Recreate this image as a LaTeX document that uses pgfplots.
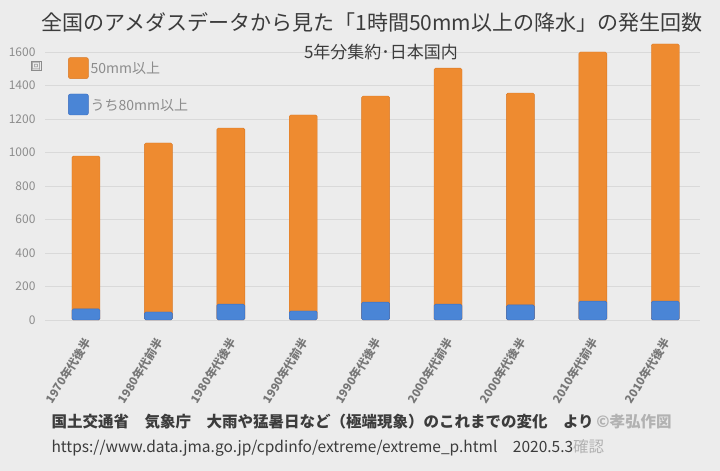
\documentclass[border=0pt]{standalone}
\usepackage{pgfplots}
\pgfplotsset{compat=1.18}
\usepackage{fontspec}
\setmainfont{Noto Sans CJK JP}
\definecolor{bg}{HTML}{ECECEC}
\definecolor{gridc}{HTML}{D9D9D9}
\definecolor{orbar}{HTML}{EE8B30}
\definecolor{ordraw}{HTML}{D87826}
\definecolor{blbar}{HTML}{4A85D6}
\definecolor{bldraw}{HTML}{3A6CBE}
\definecolor{titlec}{HTML}{3C3C3C}
\definecolor{tickc}{HTML}{8C8C8C}

\pgfplotstableread{
x  all   heavy
0  979   66
1  1057  48
2  1146  95
3  1224  54
4  1337  107
5  1504  95
6  1355  90
7  1600  113
8  1648  113
}\counts

\begin{document}
\begin{tikzpicture}[x=1pt,y=1pt]
  \path[use as bounding box, fill=bg] (0,0) rectangle (720,471);
  \begin{axis}[
      at={(45pt,151pt)}, anchor=south west,
      scale only axis,
      width=655pt, height=284.75pt,
      xmin=-0.566, xmax=8.48,
      ymin=0, ymax=1700,
      ytick={0,200,...,1600},
      xtick={0,...,8},
      xticklabels={1970年代後半,1980年代前半,1980年代後半,1990年代前半,1990年代後半,2000年代前半,2000年代後半,2010年代前半,2010年代後半},
      axis line style={draw=none},
      major tick length=0pt,
      ymajorgrids,
      grid style={gridc, line width=0.8pt},
      /pgf/number format/assume math mode=true,
      /pgf/number format/1000 sep={},
      yticklabel style={font=\fontsize{12}{12}\selectfont, text=tickc, xshift=-6pt},
      xticklabel style={font=\bfseries\fontsize{11.5}{11.5}\selectfont, text=tickc!85!black, rotate=58, anchor=north east, xshift=-12pt, yshift=-3pt},
      legend style={at={(0.0305,0.93)}, anchor=north west, draw=none, fill=none,
        font=\fontsize{14}{14}\selectfont, text=tickc, row sep=15pt,
        /tikz/every even column/.append style={column sep=8pt}},
      legend cell align=left,
      legend image code/.code={\draw[#1, rounded corners=2pt] (0pt,-10pt) rectangle (20pt,11pt);},
      clip=false,
    ]
    \addplot[ybar, bar width=28pt, bar shift=0pt, fill=orbar, draw=ordraw, rounded corners=1.5pt] table[x=x, y=all] {\counts};
    \addlegendentry{50mm以上}
    \addplot[ybar, bar width=28pt, bar shift=0pt, fill=blbar, draw=bldraw, rounded corners=1.5pt] table[x=x, y=heavy] {\counts};
    \addlegendentry{うち80mm以上}
  \end{axis}
  \node[text=titlec, font=\fontsize{21}{21}\selectfont] at (372,449) {全国のアメダスデータから見た「1時間50mm以上の降水」の発生回数};
  \node[text=titlec, font=\fontsize{17}{17}\selectfont] at (381,419) {5年分集約･日本国内};
  \node[text=tickc, font=\fontsize{9}{9}\selectfont, draw=tickc, inner sep=0.5pt] at (36,405) {回};
  \node[anchor=west, text=titlec, font=\bfseries\fontsize{15.5}{15.5}\selectfont] at (48,49)
    {国土交通省\hspace{1em}気象庁\hspace{1em}大雨や猛暑日など（極端現象）のこれまでの変化\hspace{1em}より\,\textcolor{gray!60}{©孝弘作図}};
  \node[anchor=west, text=titlec, font=\fontsize{15.5}{15.5}\selectfont] at (48,23)
    {https://www.data.jma.go.jp/cpdinfo/extreme/extreme\_p.html\hspace{1em}2020.5.3\textcolor{gray!60}{確認}};
\end{tikzpicture}
\end{document}
